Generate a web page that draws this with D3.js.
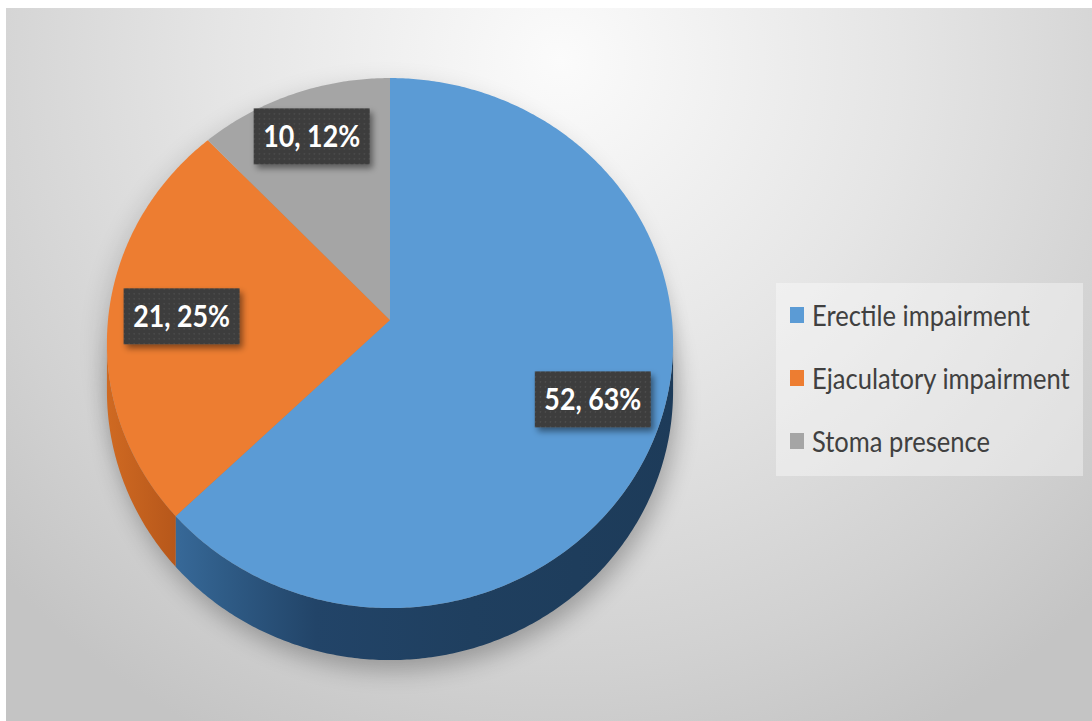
<!DOCTYPE html>
<html>
<head>
<meta charset="utf-8">
<script src="https://cdn.jsdelivr.net/npm/d3@7"></script>
<style>
  html, body { margin: 0; padding: 0; background: #ffffff; }
  svg { display: block; }
</style>
</head>
<body>
<svg id="chart" width="1092" height="721"></svg>
<script>
// ---- data ----
const categories = ["Erectile impairment", "Ejaculatory impairment", "Stoma presence"];
const counts = [52, 21, 10];
const topColors = ["#5b9bd5", "#ed7d31", "#a5a5a5"];

// ---- geometry / layout ----
const W = 1092, H = 721;
const cx = 390, cy = 320;       // projected pie centre
const a = 282, b = 263;         // horizontal / vertical radii
const k = 0.087;                // perspective factor
const depth = 47.5;             // side thickness
const legendTextWidth = 218;    // rendered width of first legend entry
const labelTextWidth = 97;      // rendered width of a data label
const svg = d3.select("#chart");
const defs = svg.append("defs");

// background gradient
const bg = defs.append("radialGradient").attr("id", "bg")
  .attr("gradientUnits", "userSpaceOnUse")
  .attr("cx", 560).attr("cy", 60).attr("r", 760);
bg.append("stop").attr("offset", "0").attr("stop-color", "#fbfbfb");
bg.append("stop").attr("offset", "0.45").attr("stop-color", "#e5e5e5");
bg.append("stop").attr("offset", "0.8").attr("stop-color", "#d1d1d1");
bg.append("stop").attr("offset", "1").attr("stop-color", "#c4c4c4");

svg.append("rect").attr("x", 6).attr("y", 8).attr("width", W - 6).attr("height", H - 8)
  .attr("fill", "url(#bg)");

// shadow filter
const sh = defs.append("filter").attr("id", "pieShadow")
  .attr("x", "-20%").attr("y", "-20%").attr("width", "140%").attr("height", "140%");
sh.append("feGaussianBlur").attr("stdDeviation", 12);

const lblSh = defs.append("filter").attr("id", "lblShadow")
  .attr("x", "-20%").attr("y", "-20%").attr("width", "150%").attr("height", "150%");
lblSh.append("feDropShadow").attr("dx", 3).attr("dy", 4).attr("stdDeviation", 3)
  .attr("flood-color", "#000").attr("flood-opacity", 0.45);

// dotted texture for label boxes
const pat = defs.append("pattern").attr("id", "dots").attr("patternUnits", "userSpaceOnUse")
  .attr("width", 5).attr("height", 5);
pat.append("rect").attr("width", 5).attr("height", 5).attr("fill", "#3c3c3c");
pat.append("rect").attr("x", 2).attr("y", 2).attr("width", 1.2).attr("height", 1.2).attr("fill", "#5a5a5a");

// side gradients
const gBlue = defs.append("linearGradient").attr("id", "sideBlue")
  .attr("gradientUnits", "userSpaceOnUse").attr("x1", 160).attr("x2", 680).attr("y1", 0).attr("y2", 0);
[["0", "#3a6d9e"], ["0.12", "#2f5c87"], ["0.3", "#224468"], ["0.6", "#1f3f5f"], ["1", "#1d3b59"]]
  .forEach(s => gBlue.append("stop").attr("offset", s[0]).attr("stop-color", s[1]));
const gOr = defs.append("linearGradient").attr("id", "sideOrange")
  .attr("gradientUnits", "userSpaceOnUse").attr("x1", 105).attr("x2", 180).attr("y1", 0).attr("y2", 0);
[["0", "#d06a22"], ["1", "#b5561a"]]
  .forEach(s => gOr.append("stop").attr("offset", s[0]).attr("stop-color", s[1]));
const sideFills = ["url(#sideBlue)", "url(#sideOrange)", "#7c7c7c"];

// projection of a point on the disk (angle clockwise from 12 o'clock)
function proj(theta, r, dz) {
  const u = r * Math.sin(theta), v = r * Math.cos(theta);
  const w = 1 + k * v;
  return [cx + a * u / w, cy + (dz - b * v) / w];
}
function arcPts(t0, t1, r, dz) {
  const n = Math.max(2, Math.ceil(Math.abs(t1 - t0) / 0.01));
  return d3.range(n + 1).map(i => proj(t0 + (t1 - t0) * i / n, r, dz));
}
const line = d3.line();

const total = d3.sum(counts);
const pie = d3.pie().sort(null).value(d => d)(counts);
const color = d3.scaleOrdinal().domain(categories).range(topColors);

// shadow under the pie
const full = arcPts(0, 2 * Math.PI, 1, 0);
const fullBottom = arcPts(0, 2 * Math.PI, 1, depth);
svg.append("path")
  .attr("d", line(fullBottom.map(p => [p[0] + 4, p[1] + 10])) + "Z")
  .attr("fill", "#000").attr("opacity", 0.28).attr("filter", "url(#pieShadow)");
svg.append("path")
  .attr("d", line(full.map(p => [p[0] - 5, p[1] + 6])) + "Z")
  .attr("fill", "#000").attr("opacity", 0.14).attr("filter", "url(#pieShadow)");

// side walls (visible front part)
const tL = Math.PI / 2 + Math.asin(k);
const tR = 2 * Math.PI - tL;
pie.forEach((s, i) => {
  const t0 = Math.max(s.startAngle, tL), t1 = Math.min(s.endAngle, tR);
  if (t1 <= t0) return;
  const top = arcPts(t0, t1, 1, 0);
  const bot = arcPts(t1, t0, 1, depth);
  svg.append("path").attr("d", line(top.concat(bot)) + "Z")
    .attr("fill", sideFills[i]);
});

// top faces
pie.forEach((s, i) => {
  const pts = [proj(0, 0, 0)].concat(arcPts(s.startAngle, s.endAngle, 1, 0));
  svg.append("path").attr("d", line(pts) + "Z")
    .attr("fill", color(categories[i]));
});

// data labels
const labelR = [0.76, 0.74, 0.8];
const labelTexts = [];
pie.forEach((s, i) => {
  const mid = (s.startAngle + s.endAngle) / 2;
  const p = proj(mid, labelR[i], 0);
  const pct = Math.round(100 * counts[i] / total);
  const g = svg.append("g").attr("transform", `translate(${p[0]},${p[1]})`);
  g.append("rect").attr("x", -58).attr("y", -28).attr("width", 116).attr("height", 56)
    .attr("fill", "url(#dots)").attr("filter", "url(#lblShadow)");
  const t = g.append("text").attr("x", 0).attr("y", 11)
    .attr("text-anchor", "middle")
    .attr("font-family", "Lato, 'Open Sans', sans-serif")
    .attr("font-weight", "bold").attr("font-size", 31)
    .attr("fill", "#ffffff")
    .text(`${counts[i]}, ${pct}%`);
  labelTexts.push(t);
});
const lsx = labelTextWidth / labelTexts[0].node().getComputedTextLength();
labelTexts.forEach(t => t.attr("transform", `scale(${lsx},1)`));

// legend
const lg = svg.append("g");
lg.append("rect").attr("x", 776).attr("y", 283).attr("width", 307).attr("height", 193)
  .attr("fill", "#ffffff").attr("opacity", 0.38);
const legY = d3.scalePoint().domain(categories).range([326, 452]);
const legTexts = [];
categories.forEach((c, i) => {
  const y = legY(c);
  lg.append("rect").attr("x", 790).attr("y", y - 19).attr("width", 14).attr("height", 16)
    .attr("fill", color(c));
  const t = lg.append("text").attr("x", 0).attr("y", 0)
    .attr("font-family", "Lato, 'Open Sans', sans-serif")
    .attr("font-size", 29).attr("fill", "#404040")
    .text(c);
  legTexts.push({ t, y });
});
const sx = legendTextWidth / legTexts[0].t.node().getComputedTextLength();
legTexts.forEach(o => o.t.attr("transform", `translate(812,${o.y}) scale(${sx},1)`));
</script>
</body>
</html>
